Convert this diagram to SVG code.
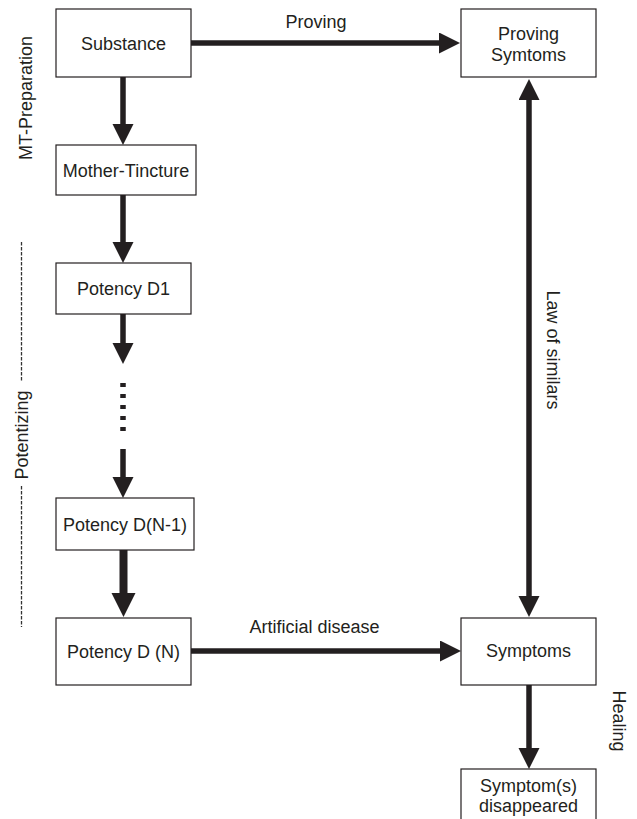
<svg xmlns="http://www.w3.org/2000/svg" width="637" height="819" viewBox="0 0 637 819">
<style>
.box{fill:#fff;stroke:#231f20;stroke-width:1.2}
.t{font-family:"Liberation Sans",Arial,sans-serif;font-size:18px;fill:#231f20;text-anchor:middle}
.c{stroke:#231f20;stroke-width:5.5;fill:none}
.ck{stroke:#231f20;stroke-width:8;fill:none}
.dash{stroke:#333;stroke-width:1.3;stroke-dasharray:3.5 1.5;fill:none}
</style>
<defs>
<marker id="ah" markerUnits="userSpaceOnUse" markerWidth="22" markerHeight="22" refX="1" refY="10.5" orient="auto-start-reverse">
<path d="M0,0 L21,10.5 L0,21 z" fill="#231f20"/>
</marker>
<marker id="ahb" markerUnits="userSpaceOnUse" markerWidth="25" markerHeight="25" refX="1" refY="12" orient="auto">
<path d="M0,0 L24,12 L0,24 z" fill="#231f20"/>
</marker>
</defs>
<g id="connectors">
<line class="c" x1="191" y1="43" x2="440" y2="43" marker-end="url(#ah)"/>
<line class="c" x1="123" y1="77" x2="123" y2="125" marker-end="url(#ah)"/>
<line class="c" x1="123" y1="195" x2="123" y2="243" marker-end="url(#ah)"/>
<line class="c" x1="123" y1="314" x2="123" y2="344" marker-end="url(#ah)"/>
<line class="c" x1="123" y1="383" x2="123" y2="431" style="stroke-dasharray:4 7"/>
<line class="c" x1="123" y1="449" x2="123" y2="478" marker-end="url(#ah)"/>
<line class="ck" x1="123.5" y1="550" x2="123.5" y2="594" marker-end="url(#ahb)"/>
<line class="c" x1="191" y1="651" x2="441" y2="651" marker-end="url(#ah)"/>
<line class="c" x1="529" y1="99" x2="529" y2="597" marker-start="url(#ah)" marker-end="url(#ah)"/>
<line class="c" x1="529" y1="685" x2="529" y2="749" marker-end="url(#ah)"/>
<text class="t" x="316" y="28">Proving</text>
<text class="t" x="314.5" y="633">Artificial disease</text>
<text class="t" transform="translate(547,350) rotate(90)">Law of similars</text>
<text class="t" transform="translate(613,721) rotate(90)">Healing</text>
</g>
<g id="labels">
<text class="t" transform="translate(32,98) rotate(-90)">MT-Preparation</text>
<line class="dash" x1="21.5" y1="242" x2="21.5" y2="382"/>
<text class="t" transform="translate(27.5,435) rotate(-90)">Potentizing</text>
<line class="dash" x1="21.5" y1="486" x2="21.5" y2="627"/>
</g>
<g id="substance">
<rect class="box" x="56" y="9" width="135" height="68"/>
<text class="t" x="123.5" y="50">Substance</text>
</g>
<g id="mother-tincture">
<rect class="box" x="56" y="145" width="140" height="50"/>
<text class="t" x="126" y="177">Mother-Tincture</text>
</g>
<g id="potency-d1">
<rect class="box" x="56" y="263" width="135" height="51"/>
<text class="t" x="123.5" y="295">Potency D1</text>
</g>
<g id="potency-dn-1">
<rect class="box" x="56" y="498" width="138" height="52"/>
<text class="t" x="125" y="531">Potency D(N-1)</text>
</g>
<g id="potency-dn">
<rect class="box" x="56" y="618" width="135" height="67"/>
<text class="t" x="123.5" y="658">Potency D (N)</text>
</g>
<g id="proving-symptoms">
<rect class="box" x="461" y="9" width="135" height="68"/>
<text class="t" x="528.5" y="40">Proving</text>
<text class="t" x="528.5" y="61">Symtoms</text>
</g>
<g id="symptoms">
<rect class="box" x="461" y="618" width="135" height="67"/>
<text class="t" x="528.5" y="657">Symptoms</text>
</g>
<g id="disappeared">
<rect class="box" x="461" y="769" width="135" height="60"/>
<text class="t" x="528.5" y="792">Symptom(s)</text>
<text class="t" x="528.5" y="812">disappeared</text>
</g>
</svg>
